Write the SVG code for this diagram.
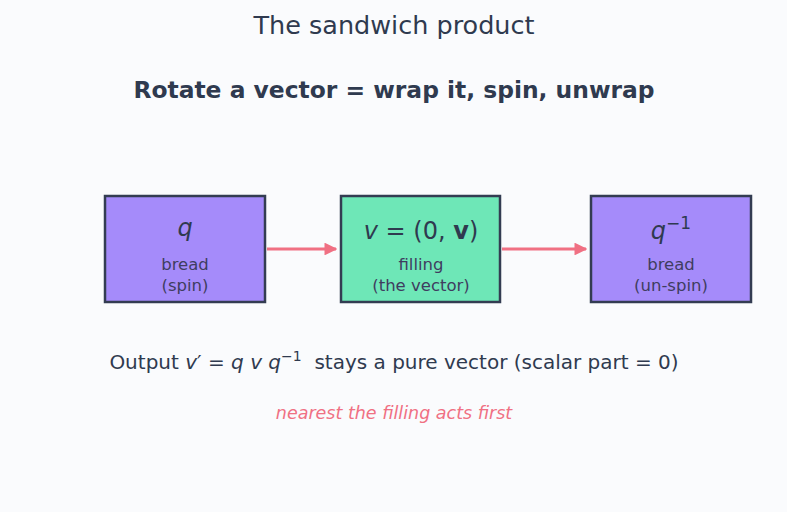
<svg xmlns="http://www.w3.org/2000/svg" width="787" height="512" viewBox="0 0 787 512">
<style>
text{font-family:"DejaVu Sans","Liberation Sans",sans-serif;fill:#2f3a4f}
.box{stroke:#333c52;stroke-width:2.5}
.bread{fill:#a58bfa}
.fill{fill:#6ee7b7}
.lbl{font-size:16.5px;fill:#3f3d60;text-anchor:middle}
.math{font-size:24px;text-anchor:middle}
.it{font-style:italic}
.conn{stroke:#f07083;stroke-width:3.2;fill:none;marker-end:url(#ah)}
</style>
<defs>
<marker id="ah" viewBox="0 0 10 10" refX="9" refY="5" markerWidth="4" markerHeight="4" orient="auto" markerUnits="strokeWidth">
<path d="M0,0 L10,5 L0,10 z" fill="#f07083"/>
</marker>
</defs>
<rect width="787" height="512" fill="#fafbfd"/>
<text x="394" y="34" font-size="25.5" text-anchor="middle">The sandwich product</text>
<text x="394" y="98" font-size="23.4" font-weight="bold" text-anchor="middle">Rotate a vector = wrap it, spin, unwrap</text>
<g id="connectors">
<line class="conn" x1="267" y1="249" x2="336" y2="249"/>
<line class="conn" x1="502" y1="249" x2="586" y2="249"/>
</g>
<g id="node-q">
<rect class="box bread" x="105" y="196" width="160" height="106"/>
<text class="math it" x="185" y="236">q</text>
<text class="lbl" x="185" y="270">bread</text>
<text class="lbl" x="185" y="291">(spin)</text>
</g>
<g id="node-v">
<rect class="box fill" x="341" y="196" width="159" height="106"/>
<text class="math" x="421" y="239" xml:space="preserve"><tspan class="it">v</tspan> = (0, <tspan font-weight="bold">v</tspan>)</text>
<text class="lbl" x="421" y="270">filling</text>
<text class="lbl" x="421" y="291">(the vector)</text>
</g>
<g id="node-qinv">
<rect class="box bread" x="591" y="196" width="160" height="106"/>
<text class="math" x="671" y="239"><tspan class="it">q</tspan><tspan font-size="17" dy="-10">−1</tspan></text>
<text class="lbl" x="671" y="270">bread</text>
<text class="lbl" x="671" y="291">(un-spin)</text>
</g>
<text x="394" y="369" font-size="20" text-anchor="middle" xml:space="preserve">Output <tspan class="it">v</tspan>′ = <tspan class="it">q v q</tspan><tspan font-size="14" dy="-8">−1</tspan><tspan dy="8">  stays a pure vector (scalar part = 0)</tspan></text>
<text x="394" y="419" font-size="17.5" font-style="italic" text-anchor="middle" style="fill:#f07083">nearest the filling acts first</text>
</svg>
